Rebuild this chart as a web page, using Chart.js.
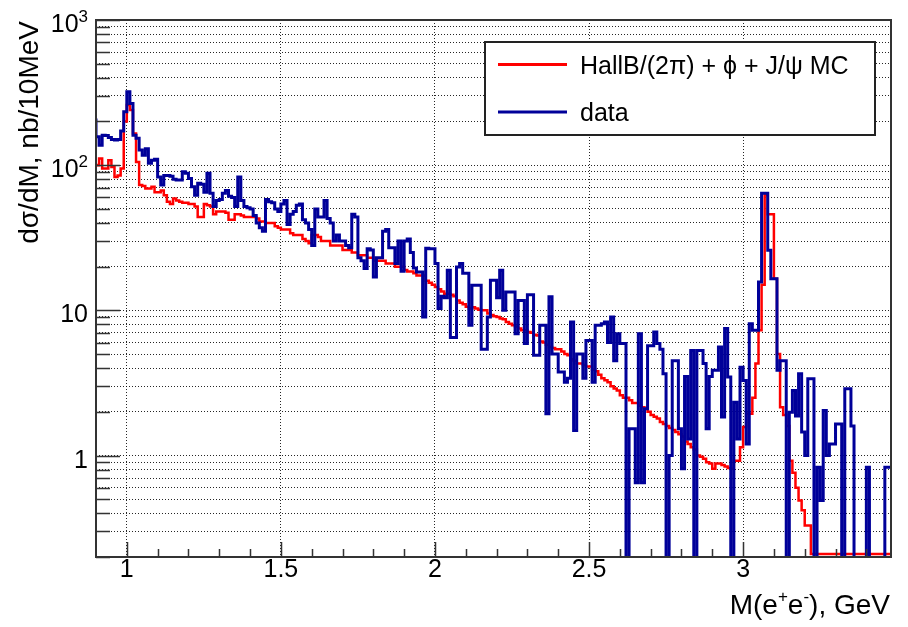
<!DOCTYPE html>
<html>
<head>
<meta charset="utf-8">
<title>M(e+e-) spectrum</title>
<script src="https://cdn.jsdelivr.net/npm/chart.js@4.4.1/dist/chart.umd.min.js"></script>
<style>
  html, body { margin: 0; padding: 0; background: #fff; }
  #chart { display: block; }
</style>
</head>
<body>
<canvas id="chart" width="908" height="627"></canvas>
<script>
// histogram binning: 10 MeV bins starting at 0.9 GeV
const binStart = 0.9
const binWidth = 0.01

// HallB/(2pi) + phi + J/psi MC, nb/10MeV (one value per bin)
const mcValues = [
  103, 100, 111, 95, 95, 108, 97, 83, 85, 95,
  200, 260, 240, 165, 105, 73, 72, 69, 69, 71,
  65, 65, 67, 62, 56, 54, 59, 57, 56, 55,
  55, 54, 54, 52, 44, 44, 54, 53, 52, 46,
  48, 48, 48, 47, 42, 42, 46, 46, 45, 44,
  44, 44, 44, 43, 41, 41, 40, 40, 40, 38,
  37, 36, 36, 36, 34, 33, 33, 33, 31, 30,
  29, 33, 33, 32, 30, 30, 30, 28, 28, 28,
  28, 26, 26, 26, 25, 25, 24, 24, 24, 23,
  23, 22, 22, 22, 22, 21, 21, 21, 20, 20,
  20, 19, 18.5, 18.5, 18, 17.4, 17.4, 17.4, 16, 15.5,
  15, 14.5, 14, 13.5, 13, 13, 12.8, 12.5, 11.7, 11.3,
  11, 10.6, 10.3, 10.5, 10.3, 10.1, 10, 10, 9.5, 9.3,
  9.1, 9.0, 8.8, 8.7, 8.3, 8.1, 7.9, 7.7, 7.5, 7.3,
  7.3, 7.1, 7.0, 6.8, 6.7, 6.1, 6.0, 5.8, 5.6, 5.5,
  5.4, 5.4, 5.2, 5.0, 4.9, 4.6, 4.5, 4.3, 4.3, 4.2,
  4.1, 4.1, 3.9, 3.8, 3.6, 3.4, 3.3, 3.2, 3.0, 2.9,
  2.8, 2.6, 2.5, 2.5, 2.4, 2.3, 2.3, 2.2, 2.15, 2.1,
  2.0, 1.9, 1.85, 1.8, 1.7, 1.65, 1.6, 1.55, 1.5, 1.45,
  1.4, 1.35, 1.25, 1.2, 1.14, 1.1, 1.0, 0.98, 0.95, 0.9,
  0.88, 0.81, 0.88, 0.88, 0.86, 0.84, 0.82, 0.81, 0.92, 0.92,
  1.14, 1.57, 1.94, 1.94, 2.5, 4.3, 7.3, 15, 62, 46,
  46, 16.5, 5.0, 2.15, 1.9, 1.6, 0.92, 0.76, 0.60, 0.49,
  0.42, 0.33, 0.33, 0.21, 0.21, 0.21, 0.21, 0.21, 0.21, 0.21,
  0.21, 0.21, 0.21, 0.21, 0.21, 0.21, 0.21, 0.21, 0.21, 0.21,
  0.21, 0.21, 0.21, 0.21, 0.21, 0.21, 0.21, 0.21
]

// data, nb/10MeV (0 = empty bin)
const dataValues = [
  210, 157, 137, 161, 160, 155, 150, 149, 150, 172,
  233, 320, 266, 161, 153, 127, 117, 130, 103, 108,
  110, 83, 73, 85, 85, 84, 80, 79, 79, 90,
  88, 81, 71, 62, 75, 74, 65, 88, 64, 52,
  57, 58, 64, 67, 61, 60, 52, 83, 57, 52,
  51, 50, 45, 40, 37, 35, 58, 56, 55, 50,
  48, 54, 57, 39, 46, 48, 53, 54, 42, 40,
  36, 28, 50, 44, 44, 57, 43, 40, 30, 33,
  30, 30, 28, 27, 46, 44, 23, 22, 19.4, 26.6,
  26, 17, 23, 23, 35, 36, 27, 27, 21, 30,
  18.6, 30, 31, 25, 19.6, 18.4, 18.4, 9.0, 26.8, 26.6,
  26.6, 21, 10.3, 12.5, 12.2, 18.9, 6.5, 6.5, 19.9, 21,
  18, 18, 7.9, 14.9, 14.9, 14.9, 5.4, 5.4, 9.0, 16.1,
  16.1, 12.2, 18.9, 10, 13.4, 13.4, 13.4, 6.9, 11.7, 11.7,
  5.9, 12.8, 12.8, 4.9, 4.9, 7.9, 7.9, 1.94, 12.4, 5.0,
  5.0, 3.76, 3.76, 3.2, 3.4, 8.3, 1.49, 5.0, 5.0, 3.4,
  6.2, 6.2, 3.2, 7.9, 7.9, 8.1, 8.3, 6.0, 9.0, 4.5,
  6.9, 5.9, 5.9, 0, 1.53, 1.53, 0.65, 6.9, 0.65, 2.1,
  5.7, 5.7, 7.1, 5.9, 5.4, 3.66, 0, 1.0, 4.5, 4.5,
  1.53, 0.81, 3.5, 1.3, 5.3, 0, 5.3, 5.3, 4.3, 1.53,
  3.5, 3.86, 3.86, 5.6, 1.84, 7.5, 3.47, 0, 2.33, 1.3,
  4.06, 3.29, 1.2, 8.1, 7.3, 7.3, 15.7, 64, 64, 25.9,
  16.5, 16.5, 3.86, 4.5, 4.5, 0, 1.99, 2.81, 1.87, 3.66,
  1.45, 1.0, 3.38, 3.38, 0, 0.83, 0.49, 2.04, 1.0, 1.2,
  1.2, 1.65, 1.65, 0, 2.88, 2.88, 1.6, 0, 0, 0,
  0, 0.83, 0, 0, 0, 0, 0, 0.83
]

// axis ticks / labels
const xMajorTicks = [1, 1.5, 2, 2.5, 3]
const xTickLabels = ['1', '1.5', '2', '2.5', '3']
const yDecadeTicks = [1, 10, 100, 1000]
const yTickLabels = [['1', ''], ['10', ''], ['10', '2'], ['10', '3']]

const mcLabel = 'HallB/(2\u03C0) + \u03D5 + J/\u03C8 MC'
const dataLabel = 'data'

const xMin = binStart
const xMax = binStart + mcValues.length * binWidth
const yMin = 0.2
const yMax = 1000
const fontFamily = '"Liberation Sans", Arial, Helvetica, sans-serif'

// step outline: one point per lower bin edge, plus the last upper edge
// empty bins are pushed below the axis so the line drops to the bottom like ROOT
function histPoints(values) {
    const pts = values.map((v, i) => ({ x: binStart + i * binWidth, y: v > 0 ? v : 0.01 }))
    pts.push({ x: binStart + values.length * binWidth, y: pts[pts.length - 1].y })
    return pts
}

// minor grid on the log axis: 2..9 x each decade
const yGridValues = []
for (let e = -1; e <= 2; e++) {
    for (let m = 1; m <= 9; m++) {
        const v = m * Math.pow(10, e)
        if (v >= yMin - 1e-9 && v <= yMax) yGridValues.push(v)
    }
}
yGridValues.push(yMax)

const xMinorTicks = []
for (let k = 10; k <= 34; k++) xMinorTicks.push(k / 10)

function drawParts(ctx, parts, right, baseline, size, supSize) {
    // right-aligned text made of normal and superscript parts
    let widths = parts.map(p => {
        ctx.font = (p[1] ? supSize : size) + 'px ' + fontFamily
        return ctx.measureText(p[0]).width
    })
    let x = right - widths.reduce((a, b) => a + b, 0)
    ctx.textAlign = 'left'
    parts.forEach((p, i) => {
        ctx.font = (p[1] ? supSize : size) + 'px ' + fontFamily
        ctx.fillText(p[0], x, p[1] ? baseline - size * 0.42 : baseline)
        x += widths[i]
    })
}

const rootFrame = {
    id: 'rootFrame',
    afterDraw(chart) {
        const ctx = chart.ctx
        const area = chart.chartArea
        const xs = chart.scales.x
        const ys = chart.scales.y
        ctx.save()

        // frame
        ctx.strokeStyle = '#333'
        ctx.lineWidth = 2
        ctx.strokeRect(area.left, area.top, area.right - area.left, area.bottom - area.top)

        // inner tick marks
        ctx.lineWidth = 1.5
        ctx.beginPath()
        yGridValues.forEach(v => {
            const py = Math.round(ys.getPixelForValue(v)) + 0.5
            const major = yDecadeTicks.some(d => Math.abs(d - v) < 1e-9)
            ctx.moveTo(area.left, py)
            ctx.lineTo(area.left + (major ? 24 : 14), py)
        })
        xMinorTicks.forEach(v => {
            const px = Math.round(xs.getPixelForValue(v)) + 0.5
            const major = xMajorTicks.some(d => Math.abs(d - v) < 1e-9)
            ctx.moveTo(px, area.bottom)
            ctx.lineTo(px, area.bottom - (major ? 15 : 8))
        })
        ctx.stroke()

        // tick labels
        ctx.fillStyle = '#000'
        ctx.textBaseline = 'alphabetic'
        ctx.font = '25px ' + fontFamily
        ctx.textAlign = 'center'
        xMajorTicks.forEach((v, i) => {
            ctx.fillText(xTickLabels[i], xs.getPixelForValue(v), area.bottom + 20)
        })
        yDecadeTicks.forEach((v, i) => {
            const py = ys.getPixelForValue(v)
            const [base, exp] = yTickLabels[i]
            drawParts(ctx, [[base, false], [exp, true]], 88, py + 12, 25, 17)
        })

        // axis titles
        drawParts(ctx, [['M(e', false], ['+', true], ['e', false], ['-', true], ['), GeV', false]], 890, 614, 28, 17)

        ctx.save()
        ctx.translate(38, 21)
        ctx.rotate(-Math.PI / 2)
        ctx.font = '28px ' + fontFamily
        ctx.textAlign = 'right'
        ctx.fillText('d\u03C3/dM, nb/10MeV', 0, 0)
        ctx.restore()

        // legend box
        ctx.fillStyle = '#fff'
        ctx.fillRect(485, 42, 390, 93)
        ctx.strokeStyle = '#222'
        ctx.lineWidth = 2
        ctx.strokeRect(485, 42, 390, 93)
        const rows = [64.5, 112]
        chart.data.datasets.forEach((ds, i) => {
            ctx.strokeStyle = ds.borderColor
            ctx.lineWidth = 3
            ctx.beginPath()
            ctx.moveTo(498, rows[i])
            ctx.lineTo(567, rows[i])
            ctx.stroke()
            ctx.fillStyle = '#000'
            ctx.font = '25px ' + fontFamily
            ctx.textAlign = 'left'
            ctx.fillText(ds.label, 580, rows[i] + 9)
        })

        ctx.restore()
    }
}

const ctx = document.getElementById('chart')

const chart = new Chart(ctx, {
    type: 'line',
    data: {
        datasets: [{
            label: mcLabel,
            data: histPoints(mcValues),
            borderColor: '#ff0000',
            borderWidth: 2.5,
            stepped: 'after',
            pointRadius: 0,
            fill: false,
            order: 1
        }, {
            label: dataLabel,
            data: histPoints(dataValues),
            borderColor: '#000099',
            borderWidth: 3,
            stepped: 'after',
            pointRadius: 0,
            fill: false,
            order: 0
        }]
    },
    options: {
        responsive: false,
        animation: false,
        layout: { padding: { left: 0, right: 17, top: 20, bottom: 0 } },
        plugins: {
            legend: { display: false },
            tooltip: { enabled: false }
        },
        scales: {
            x: {
                type: 'linear',
                min: xMin,
                max: xMax,
                afterBuildTicks: s => { s.ticks = xMajorTicks.map(v => ({ value: v })) },
                afterFit: s => { s.height = 70 },
                ticks: { display: false },
                grid: { color: 'rgba(0,0,0,0.85)', lineWidth: 1, drawTicks: false },
                border: { display: false, dash: [1, 2] }
            },
            y: {
                type: 'logarithmic',
                min: yMin,
                max: yMax,
                afterBuildTicks: s => { s.ticks = yGridValues.map(v => ({ value: v })) },
                afterFit: s => { s.width = 96 },
                ticks: { display: false },
                grid: { color: 'rgba(0,0,0,0.85)', lineWidth: 1, drawTicks: false },
                border: { display: false, dash: [1, 2] }
            }
        }
    },
    plugins: [rootFrame]
})
</script>
</body>
</html>
